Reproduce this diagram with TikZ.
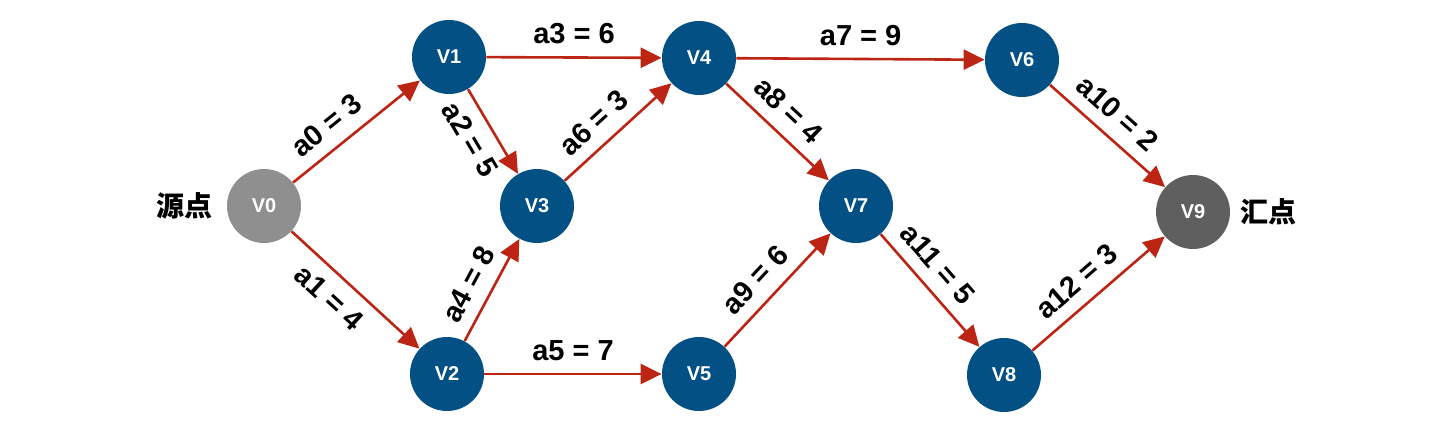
\documentclass[tikz,border=0pt]{standalone}
\usepackage{fontspec}
\setmainfont{Liberation Sans}
\newfontfamily\cjkfont{Noto Sans CJK SC}
\usetikzlibrary{arrows.meta,positioning}
\definecolor{nodeblue}{RGB}{2,80,132}
\definecolor{srcgray}{RGB}{143,143,143}
\definecolor{sinkgray}{RGB}{95,95,95}
\definecolor{arcred}{RGB}{188,36,20}

\begin{document}
\begin{tikzpicture}[x=0.5pt, y=-0.5pt, >={Triangle[length=10.5pt,width=10pt]},
	vtx/.style={circle, fill=nodeblue, text=white, minimum size=37pt, inner sep=0pt, font=\bfseries\fontsize{10}{11}\selectfont},
	arc/.style={->, draw=arcred, line width=1.3pt},
	wt/.style={sloped, inner sep=1pt, font=\bfseries\fontsize{14.5}{16}\selectfont},
	tag/.style={inner sep=0pt, font=\cjkfont\bfseries\fontsize{14}{16}\selectfont}]
	\useasboundingbox (0,0) rectangle (1454,426);
	\node[vtx, fill=srcgray] (v0) at (264,206) {V0};
	\node[vtx] (v1) at (449,57) {V1};
	\node[vtx] (v2) at (447,374) {V2};
	\node[vtx] (v3) at (537,206) {V3};
	\node[vtx] (v4) at (699,58) {V4};
	\node[vtx] (v5) at (699,374) {V5};
	\node[vtx] (v6) at (1022,60) {V6};
	\node[vtx] (v7) at (856,206) {V7};
	\node[vtx] (v8) at (1004,375) {V8};
	\node[vtx, fill=sinkgray] (v9) at (1193,212) {V9};
	\node[tag, left=7pt of v0] (src) {源点};
	\node[tag, right=5pt of v9] (sink) {汇点};
	\foreach \s/\t/\lab/\side/\p in {0/1/{a0 = 3}/above/0.38, 0/2/{a1 = 4}/below/0.42,
		1/3/{a2 = 5}/below/0.45, 1/4/{a3 = 6}/above/0.5, 2/3/{a4 = 8}/above/0.45,
		2/5/{a5 = 7}/above/0.5, 3/4/{a6 = 3}/above/0.42, 4/6/{a7 = 9}/above/0.5,
		4/7/{a8 = 4}/above/0.45, 5/7/{a9 = 6}/above/0.45, 6/9/{a10 = 2}/above/0.45,
		7/8/{a11 = 5}/above/0.4, 8/9/{a12 = 3}/above/0.45}
		\draw[arc] (v\s) -- node[wt, \side=5pt, pos=\p] (w\s\t) {\lab} (v\t);
\end{tikzpicture}
\end{document}
